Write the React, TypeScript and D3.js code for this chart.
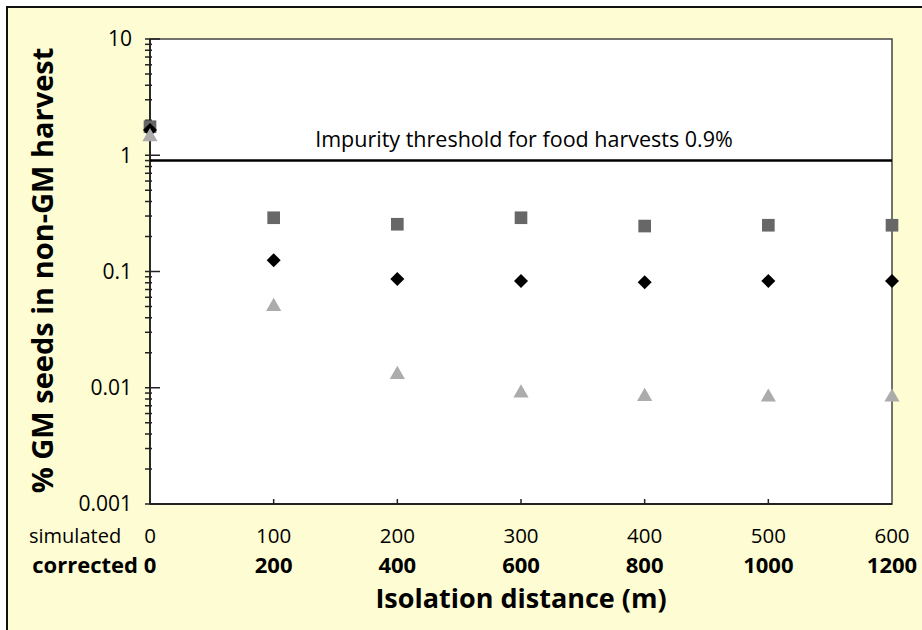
import * as d3 from "d3"

// x positions (m) on both scales, and the three measured series
const simulated = [0, 100, 200, 300, 400, 500, 600]
const corrected = [0, 200, 400, 600, 800, 1000, 1200]
const squareSeries = [1.76, 0.29, 0.255, 0.29, 0.246, 0.25, 0.25]
const diamondSeries = [1.65, 0.125, 0.086, 0.083, 0.081, 0.083, 0.083]
const triangleSeries = [1.44, 0.05, 0.013, 0.009, 0.0084, 0.0083, 0.0083]
const yTicks = [10, 1, 0.1, 0.01, 0.001]
const threshold = 0.9

const W = 922
const H = 630
const plot = { left: 150, right: 892, top: 39, bottom: 504 }
const font = "'Open Sans', sans-serif"

export default function App() {
  const x = d3.scaleLinear().domain([0, 600]).range([plot.left, plot.right])
  const xCorr = d3.scaleLinear().domain([0, 1200]).range([plot.left, plot.right])
  const y = d3.scaleLog().domain([0.001, 10]).range([plot.bottom, plot.top])

  // minor ticks 2..9 in each decade
  const minor: number[] = []
  for (const d of [0.001, 0.01, 0.1, 1]) {
    for (let k = 2; k <= 9; k++) minor.push(d * k)
  }

  const square = d3.symbol(d3.symbolSquare, 160)()
  const diamond = d3.symbol(d3.symbolSquare, 98)()
  const triangle = d3.symbol(d3.symbolTriangle, 100)()

  const fmt = (v: number) => (v >= 1 ? String(v) : String(+v.toFixed(3)))

  return (
    <svg width={W} height={H} style={{ position: "absolute", left: 0, top: 0 }} fontFamily={font}>
      <rect x={0} y={0} width={W} height={H} fill="#ffffff" />
      <rect x={7} y={7} width={W + 10} height={H + 10} fill="#fefcd2" stroke="#111" strokeWidth={2} />

      {/* plot frame */}
      <rect x={plot.left} y={plot.top} width={plot.right - plot.left} height={plot.bottom - plot.top} fill="#fff" stroke="#444" strokeWidth={1.5} />

      {/* y axis */}
      <line x1={plot.left} x2={plot.left} y1={plot.top} y2={plot.bottom} stroke="#222" strokeWidth={1.8} />
      {minor.map((v, i) => (
        <line key={"m" + i} x1={plot.left - 5} x2={plot.left + 2} y1={y(v)} y2={y(v)} stroke="#222" strokeWidth={1.5} />
      ))}
      {yTicks.map(v => (
        <g key={"y" + v}>
          <line x1={plot.left - 5} x2={plot.left + 10} y1={y(v)} y2={y(v)} stroke="#222" strokeWidth={1.5} />
          <text x={plot.left - 18} y={y(v)} dy="0.35em" textAnchor="end" fontSize={21} fill="#000">
            {fmt(v)}
          </text>
        </g>
      ))}

      {/* x axis */}
      <line x1={plot.left} x2={plot.right} y1={plot.bottom} y2={plot.bottom} stroke="#222" strokeWidth={1.8} />
      {simulated.slice(1, -1).map(v => (
        <line key={"xt" + v} x1={x(v)} x2={x(v)} y1={plot.bottom} y2={plot.bottom - 5} stroke="#222" strokeWidth={1.5} />
      ))}
      {simulated.map(v => (
        <text key={"s" + v} x={x(v)} y={543} textAnchor="middle" fontSize={20.5} fill="#000">
          {v}
        </text>
      ))}
      {corrected.map(v => (
        <text key={"c" + v} x={xCorr(v)} y={572.5} textAnchor="middle" fontSize={22} fontWeight="bold" fill="#000">
          {v}
        </text>
      ))}
      <text x={29} y={543} fontSize={20} fill="#000">simulated</text>
      <text x={138} y={572.5} textAnchor="end" fontSize={22} fontWeight="bold" fill="#000">corrected</text>

      {/* threshold */}
      <line x1={plot.left} x2={plot.right} y1={y(threshold)} y2={y(threshold)} stroke="#000" strokeWidth={2.5} />
      <text x={(plot.left + plot.right) / 2 + 3} y={147} textAnchor="middle" fontSize={21.5} fill="#000">
        Impurity threshold for food harvests 0.9%
      </text>

      {/* series */}
      {squareSeries.map((v, i) => (
        <path key={"sq" + i} d={square ?? ""} transform={`translate(${x(simulated[i])},${y(v)})`} fill="#676767" />
      ))}
      {diamondSeries.map((v, i) => (
        <path key={"di" + i} d={diamond ?? ""} transform={`translate(${x(simulated[i])},${y(v)}) rotate(45)`} fill="#000" />
      ))}
      {triangleSeries.map((v, i) => (
        <path key={"tr" + i} d={triangle ?? ""} transform={`translate(${x(simulated[i])},${y(v)})`} fill="#acacac" />
      ))}

      {/* axis titles */}
      <text x={(plot.left + plot.right) / 2} y={608} textAnchor="middle" fontSize={27} fontWeight="bold" fill="#000">
        Isolation distance (m)
      </text>
      <text transform={`translate(53,${(plot.top + plot.bottom) / 2 - 1}) rotate(-90)`} textAnchor="middle" fontSize={29} fontWeight="bold" fill="#000">
        % GM seeds in non-GM harvest
      </text>
    </svg>
  )
}
